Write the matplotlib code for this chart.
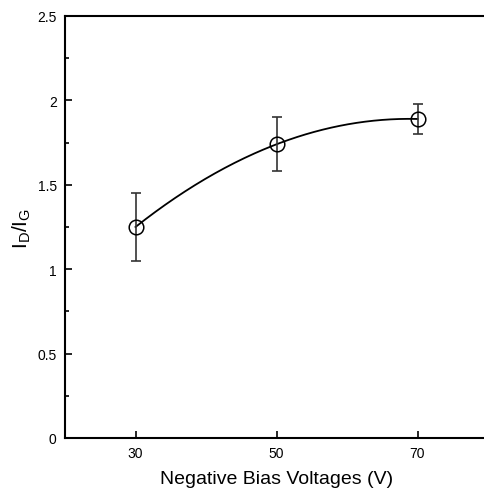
import numpy as np
import matplotlib
matplotlib.use("Agg")
import matplotlib.pyplot as plt
from matplotlib.ticker import MultipleLocator, FuncFormatter

bias = [30, 50, 70]
ratio = [1.25, 1.74, 1.89]
err_low = [0.20, 0.16, 0.09]
err_high = [0.20, 0.16, 0.09]

plt.rcParams['font.family'] = ['Liberation Sans', 'DejaVu Sans']

fig = plt.figure(figsize=(4.84, 4.89), dpi=100)
W, H = 484, 489
ax = fig.add_axes([65 / W, 1 - 439 / H, 423 / W, (439 - 17) / H])

coef = np.polyfit(bias, ratio, 2)
xs = np.linspace(bias[0], bias[-1], 200)
ax.plot(xs, np.polyval(coef, xs), color='black', lw=1.3)
ax.errorbar(bias, ratio, yerr=[err_low, err_high], fmt='none', ecolor='#333333',
            elinewidth=1.2, capsize=3.5, capthick=1.2)
ax.plot(bias, ratio, 'o', ms=10.5, mfc='none', mec='black', mew=1.1)

ax.set_xlim(20, 80)
ax.set_ylim(0, 2.5)
ax.set_xticks([30, 50, 70])
ax.yaxis.set_major_locator(MultipleLocator(0.5))
ax.yaxis.set_minor_locator(MultipleLocator(0.25))
ax.yaxis.set_major_formatter(FuncFormatter(lambda v, p: f'{v:g}'))
ax.tick_params(direction='in', length=5, width=1.2, labelsize=10, pad=6)
ax.tick_params(which='minor', direction='in', length=3, width=1.2)
ax.tick_params(axis='y', which='both', left=True, right=False)
ax.tick_params(axis='x', which='both', top=False)
for s in ['left', 'bottom', 'top']:
    ax.spines[s].set_linewidth(1.5)
ax.spines['right'].set_visible(False)

ax.set_xlabel('Negative Bias Voltages (V)', fontsize=14, labelpad=7)
ax.set_ylabel(r'I$_\mathregular{D}$/I$_\mathregular{G}$', fontsize=15, labelpad=3)

fig.savefig('out.png', dpi=100)
